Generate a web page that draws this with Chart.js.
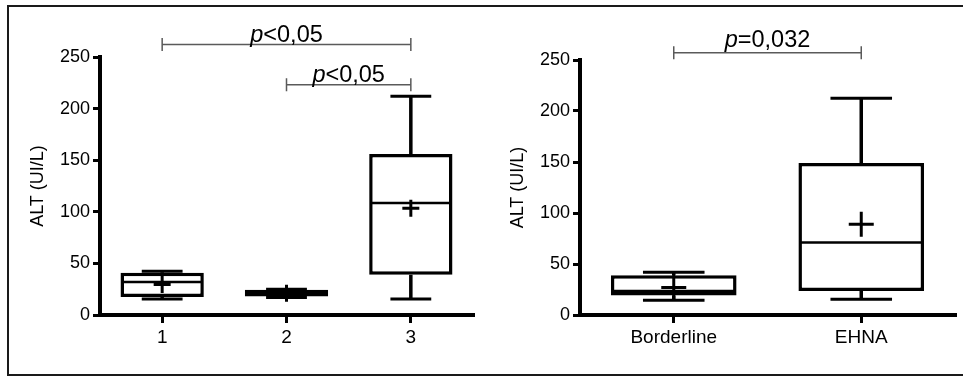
<!DOCTYPE html>
<html>
<head>
<meta charset="utf-8">
<script src="https://cdn.jsdelivr.net/npm/chart.js@4.4.0/dist/chart.umd.min.js"></script>
<style>
  html, body { margin: 0; padding: 0; background: #fff; overflow: hidden; }
  body { width: 963px; height: 377px; position: relative; }
  .frame { position: absolute; left: 7px; top: 5px; width: 980px; height: 367px; border: 2px solid #1a1a1a; }
  canvas { position: absolute; top: 0; }
  #chartA { left: 0; }
  #chartB { left: 480px; }
</style>
</head>
<body>
<div class="frame"></div>
<canvas id="chartA" width="480" height="377"></canvas>
<canvas id="chartB" width="483" height="377"></canvas>
<script>
// left panel: groups 1-3
const groupsA = ['1', '2', '3'];
const minA = [15.5, 17, 15.5];
const q1A = [17.5, 18, 39];
const medianA = [32, 21, 108.5];
const q3A = [41, 24.5, 156];
const maxA = [42.5, 25, 212];
const meanA = [29.5, 21, 103.5];

// right panel: Borderline vs EHNA
const groupsB = ['Borderline', 'EHNA'];
const minB = [14.5, 15.5];
const q1B = [19, 23.5];
const medianB = [23.5, 71];
const q3B = [39, 149];
const maxB = [42, 212.5];
const meanB = [27, 89];

const yTicks = [0, 50, 100, 150, 200, 250];

// significance brackets: [from index, to index, level in ALT units, label after the italic p]
const sigA = [[0, 2, 262, '<0,05'], [1, 2, 223, '<0,05']];
const sigB = [[0, 1, 257, '=0,032']];

Chart.defaults.font.family = "'Liberation Sans', Arial, sans-serif";
Chart.defaults.color = '#000';

const boxWhiskers = {
  id: 'boxWhiskers',
  afterDatasetDraw(chart, args, opts) {
    if (args.index !== 0) return;
    const { ctx, scales: { y } } = chart;
    const meta = chart.getDatasetMeta(0);
    ctx.save();
    ctx.strokeStyle = '#000';
    ctx.lineCap = 'butt';
    meta.data.forEach((bar, i) => {
      const cx = bar.x;
      const half = bar.width / 2;
      const capHalf = half * 0.49;
      const yMin = y.getPixelForValue(opts.min[i]);
      const yQ1 = y.getPixelForValue(opts.q1[i]);
      const yQ3 = y.getPixelForValue(opts.q3[i]);
      const yMax = y.getPixelForValue(opts.max[i]);
      const yMed = y.getPixelForValue(opts.median[i]);
      ctx.lineWidth = 3.5;
      ctx.beginPath();
      ctx.moveTo(cx, yQ3); ctx.lineTo(cx, yMax);
      ctx.moveTo(cx, yQ1); ctx.lineTo(cx, yMin);
      ctx.stroke();
      ctx.lineWidth = 3;
      ctx.beginPath();
      ctx.moveTo(cx - capHalf, yMax); ctx.lineTo(cx + capHalf, yMax);
      ctx.moveTo(cx - capHalf, yMin); ctx.lineTo(cx + capHalf, yMin);
      ctx.stroke();
      ctx.lineWidth = 2.5;
      ctx.beginPath();
      ctx.moveTo(cx - half + 1, yMed); ctx.lineTo(cx + half - 1, yMed);
      ctx.stroke();
    });
    ctx.restore();
  }
};

const pValues = {
  id: 'pValues',
  afterDraw(chart, args, opts) {
    const { ctx, scales: { x, y } } = chart;
    ctx.save();
    opts.items.forEach(([from, to, level, rest]) => {
      const x1 = x.getPixelForValue(from);
      const x2 = x.getPixelForValue(to);
      const yy = y.getPixelForValue(level);
      ctx.strokeStyle = '#5a5a5a';
      ctx.lineWidth = 1.5;
      ctx.beginPath();
      ctx.moveTo(x1, yy); ctx.lineTo(x2, yy);
      ctx.moveTo(x1, yy - 6.5); ctx.lineTo(x1, yy + 6.5);
      ctx.moveTo(x2, yy - 6.5); ctx.lineTo(x2, yy + 6.5);
      ctx.stroke();
      const italic = "italic 23.5px 'Liberation Sans', Arial, sans-serif";
      const normal = "23.5px 'Liberation Sans', Arial, sans-serif";
      ctx.font = italic;
      const wp = ctx.measureText('p').width;
      ctx.font = normal;
      const wr = ctx.measureText(rest).width;
      const start = (x1 + x2) / 2 - (wp + wr) / 2;
      const base = yy - opts.gap;
      ctx.fillStyle = '#000';
      ctx.textAlign = 'left';
      ctx.textBaseline = 'alphabetic';
      ctx.font = italic;
      ctx.fillText('p', start, base);
      ctx.font = normal;
      ctx.fillText(rest, start + wp, base);
    });
    ctx.restore();
  }
};

function makeChart(id, labels, mins, q1s, medians, q3s, maxs, means, sigs, cfg) {
  return new Chart(document.getElementById(id), {
    type: 'bar',
    data: {
      labels: labels,
      datasets: [{
        label: 'box',
        data: labels.map((_, i) => [q1s[i], q3s[i]]),
        backgroundColor: '#fff',
        borderColor: '#000',
        borderWidth: 3.5,
        borderSkipped: false,
        barPercentage: 0.67,
        categoryPercentage: 1
      }, {
        type: 'line',
        label: 'mean',
        data: means,
        showLine: false,
        order: -1,
        pointStyle: 'cross',
        pointRadius: cfg.cross,
        pointBorderWidth: 3,
        pointBorderColor: '#000',
        pointBackgroundColor: '#000'
      }]
    },
    options: {
      responsive: false,
      animation: false,
      layout: { autoPadding: false, padding: { top: cfg.top, right: cfg.right, left: 0, bottom: 0 } },
      plugins: {
        legend: { display: false },
        tooltip: { enabled: false },
        boxWhiskers: { min: mins, q1: q1s, median: medians, q3: q3s, max: maxs },
        pValues: { items: sigs, gap: cfg.gap }
      },
      scales: {
        x: {
          grid: { display: true, drawOnChartArea: false, offset: false, tickLength: 8, color: '#000', lineWidth: 3 },
          border: { display: true, color: '#000', width: 4 },
          ticks: { font: { size: 19 }, padding: 3, color: '#000' },
          afterFit(scale) {
            scale.height = 62;
            scale.paddingLeft = 0;
            scale.paddingRight = 0;
          }
        },
        y: {
          min: 0,
          max: 250,
          afterBuildTicks(scale) { scale.ticks = yTicks.map(v => ({ value: v })); },
          grid: { display: true, drawOnChartArea: false, tickLength: 7, color: '#000', lineWidth: 3 },
          border: { display: true, color: '#000', width: 4 },
          ticks: { font: { size: 18 }, padding: 3, color: '#000' },
          title: { display: true, text: 'ALT (UI/L)', font: { size: 18 }, padding: { top: 27, bottom: 0 }, color: '#000' },
          afterFit(scale) { scale.width = 100; }
        }
      }
    },
    plugins: [boxWhiskers, pValues]
  });
}

makeChart('chartA', groupsA, minA, q1A, medianA, q3A, maxA, meanA, sigA, { top: 57, right: 7, cross: 8.5, gap: 2.5 });
makeChart('chartB', groupsB, minB, q1B, medianB, q3B, maxB, meanB, sigB, { top: 60, right: 8, cross: 12.5, gap: 6 });
</script>
</body>
</html>
